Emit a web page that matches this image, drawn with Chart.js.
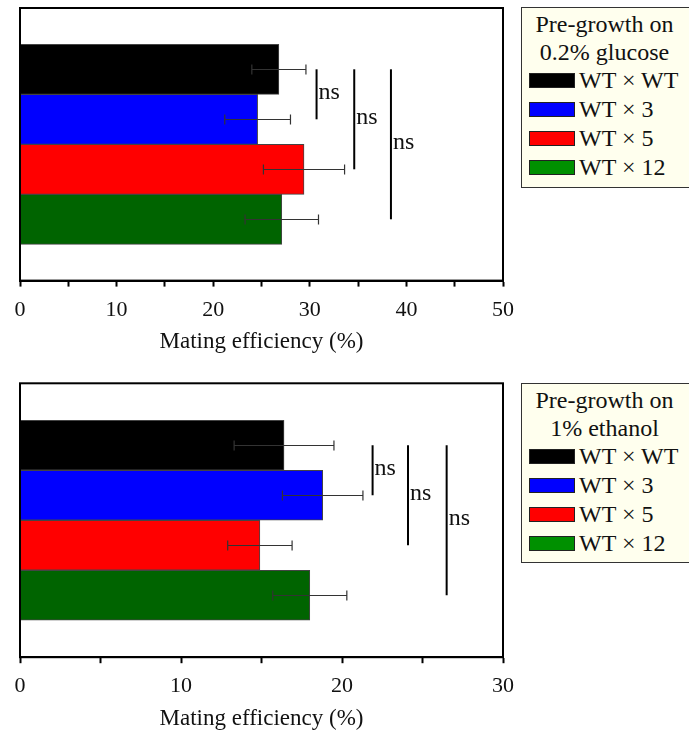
<!DOCTYPE html>
<html>
<head>
<meta charset="utf-8">
<script src="https://cdn.jsdelivr.net/npm/chart.js@4"></script>
<style>
  body { margin: 0; width: 689px; height: 734px; overflow: hidden; background: #fff; position: relative;
         font-family: 'Liberation Serif', 'Times New Roman', serif; }
  canvas { position: absolute; left: 0; }
  .legend { position: absolute; left: 521px; width: 175px; background: #ffffee; border: 1px solid #333;
            box-sizing: border-box; color: #111; font-size: 24px; }
  .legend .title { text-align: center; line-height: 28px; padding-top: 2px; padding-right: 8px; }
  .legend .item { display: flex; align-items: center; height: 29px; padding-left: 7px; white-space: nowrap; }
  .legend .item:first-of-type { margin-top: 3px; }
  .legend .swatch { width: 46px; height: 15px; border: 1px solid #222; box-sizing: border-box; margin-right: 4px; }
</style>
</head>
<body>
<canvas id="glucoseChart" width="689" height="360" style="top:0"></canvas>
<canvas id="ethanolChart" width="689" height="359" style="top:375px"></canvas>
<div class="legend" id="glucoseLegend" style="top:7px;height:181px"></div>
<div class="legend" id="ethanolLegend" style="top:383px;height:180px"></div>
<script>
// strains (one bar each, top to bottom)
const categories = ['WT × WT', 'WT × 3', 'WT × 5', 'WT × 12'];

// pre-growth on 0.2% glucose
const glucoseMeans = [26.8, 24.6, 29.4, 27.1];
const glucoseErrors = [2.8, 3.4, 4.2, 3.8];
const glucoseTitle = ['Pre-growth on', '0.2% glucose'];
const glucoseMax = 50;
// [from bar, to bar, x value of the line]
const glucoseTests = [[0, 1, 30.7], [0, 2, 34.6], [0, 3, 38.4]];

// pre-growth on 1% ethanol
const ethanolMeans = [16.4, 18.8, 14.9, 18.0];
const ethanolErrors = [3.1, 2.5, 2.0, 2.3];
const ethanolTitle = ['Pre-growth on', '1% ethanol'];
const ethanolMax = 30;
const ethanolTests = [[0, 1, 21.9], [0, 2, 24.1], [0, 3, 26.5]];

const axisTitle = 'Mating efficiency (%)';
const testLabel = 'ns';

const barColors = ['#000000', '#0000ff', '#ff0000', '#006400'];
const swatchColors = ['#000000', '#0000ff', '#ff0000', '#009000'];
const fontFamily = "'Liberation Serif', 'Times New Roman', serif";

const extrasPlugin = {
    id: 'extras',
    afterDatasetsDraw(chart, args, opts) {
        const ctx = chart.ctx;
        const xs = chart.scales.x;
        const area = chart.chartArea;
        const centers = chart.data.datasets.map((ds, i) => chart.getDatasetMeta(i).data[0].y);

        // error bars
        ctx.save();
        ctx.strokeStyle = '#333';
        ctx.lineWidth = 1.2;
        chart.data.datasets.forEach((ds, i) => {
            const y = Math.round(centers[i]) + 0.5;
            const x1 = xs.getPixelForValue(ds.data[0] - opts.errors[i]);
            const x2 = xs.getPixelForValue(ds.data[0] + opts.errors[i]);
            ctx.beginPath();
            ctx.moveTo(x1, y); ctx.lineTo(x2, y);
            ctx.moveTo(x1, y - 5); ctx.lineTo(x1, y + 5);
            ctx.moveTo(x2, y - 5); ctx.lineTo(x2, y + 5);
            ctx.stroke();
        });

        // significance lines
        ctx.strokeStyle = '#000';
        ctx.lineWidth = 2;
        ctx.fillStyle = '#111';
        ctx.font = '24px ' + fontFamily;
        ctx.textBaseline = 'middle';
        opts.tests.forEach(t => {
            const x = xs.getPixelForValue(t[2]);
            const y1 = centers[t[0]], y2 = centers[t[1]];
            ctx.beginPath();
            ctx.moveTo(x, y1); ctx.lineTo(x, y2);
            ctx.stroke();
            ctx.fillText(testLabel, x + 2, (y1 + y2) / 2 - 2);
        });

        // frame
        ctx.lineWidth = 2;
        ctx.strokeRect(area.left, area.top, area.right - area.left, area.bottom - area.top);
        ctx.restore();
    }
};

function makePanel(canvasId, legendId, means, errors, xMax, title, tests, padTop, padBottom) {
    const datasets = categories.map((c, i) => ({
        label: c,
        data: [means[i]],
        backgroundColor: barColors[i],
        borderColor: '#444',
        borderWidth: 1,
        barThickness: 50
    }));

    new Chart(document.getElementById(canvasId), {
        type: 'bar',
        data: { labels: [''], datasets: datasets },
        options: {
            indexAxis: 'y',
            responsive: false,
            animation: false,
            devicePixelRatio: 1,
            layout: { padding: { left: 20, right: 186, top: padTop, bottom: padBottom } },
            plugins: {
                legend: { display: false },
                tooltip: { enabled: false },
                extras: { errors: errors, tests: tests }
            },
            scales: {
                x: {
                    min: 0,
                    max: xMax,
                    ticks: {
                        stepSize: 5,
                        color: '#111',
                        padding: 10,
                        font: { family: fontFamily, size: 22 },
                        callback: v => (v % 10 === 0 ? v : '')
                    },
                    grid: {
                        drawOnChartArea: false,
                        drawTicks: true,
                        tickLength: 6,
                        tickColor: '#000',
                        tickWidth: 2
                    },
                    border: { display: true, color: '#000', width: 2 },
                    title: {
                        display: true,
                        text: axisTitle,
                        color: '#111',
                        font: { family: fontFamily, size: 23, lineHeight: 0.8 },
                        padding: { top: 0, bottom: 0 }
                    }
                },
                y: { display: false }
            }
        },
        plugins: [extrasPlugin]
    });

    // legend box
    const box = document.getElementById(legendId);
    let html = '<div class="title">' + title.join('<br>') + '</div>';
    categories.forEach((c, i) => {
        html += '<div class="item"><span class="swatch" style="background:' + swatchColors[i] + '"></span>' + c + '</div>';
    });
    box.innerHTML = html;
}

makePanel('glucoseChart', 'glucoseLegend', glucoseMeans, glucoseErrors, glucoseMax, glucoseTitle, glucoseTests, 8, 8.6);
makePanel('ethanolChart', 'ethanolLegend', ethanolMeans, ethanolErrors, ethanolMax, ethanolTitle, ethanolTests, 8.3, 6);
</script>
</body>
</html>
